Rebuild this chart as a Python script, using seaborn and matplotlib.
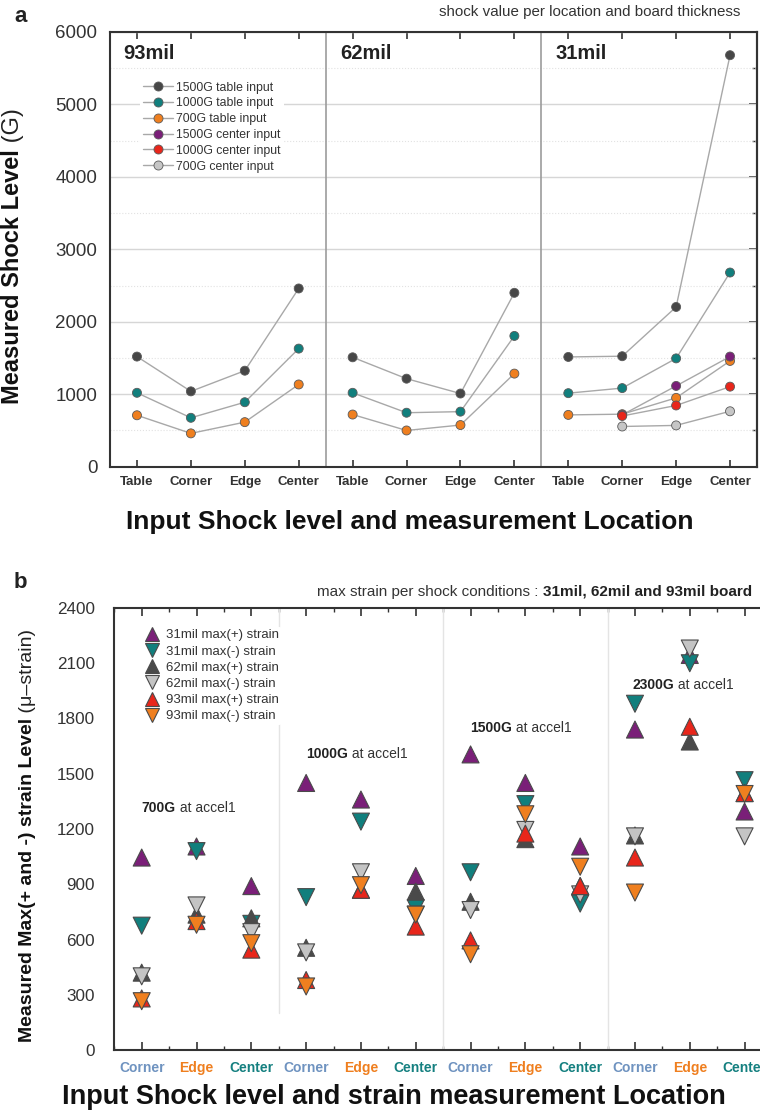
import numpy as np
import pandas as pd
import matplotlib
matplotlib.use("Agg")
import matplotlib.pyplot as plt
from matplotlib.lines import Line2D
from matplotlib.ticker import MultipleLocator, FixedLocator
import seaborn as sns

# ---------------- panel a: measured shock level ----------------
locations_a = ["Table", "Corner", "Edge", "Center"]
boards = ["93mil", "62mil", "31mil"]
# table-input series, 4 locations per board (93mil, 62mil, 31mil)
table_1500 = [1520, 1040, 1325, 2460, 1510, 1215, 1010, 2400, 1515, 1525, 2205, 5680]
table_1000 = [1020, 675, 890, 1630, 1020, 745, 760, 1805, 1015, 1085, 1495, 2680]
table_700 = [710, 460, 615, 1135, 720, 500, 575, 1285, 715, 725, 950, 1460]
# center-input series, 31mil board only (Corner, Edge, Center)
center_locations = ["Corner", "Edge", "Center"]
center_1500 = [715, 1115, 1520]
center_1000 = [700, 845, 1105]
center_700 = [555, 570, 765]

series_a = ["1500G table input", "1000G table input", "700G table input",
            "1500G center input", "1000G center input", "700G center input"]
colors_a = ["#474747", "#117f7d", "#ef7f1f", "#7a1f78", "#e8261b", "#c6c6c6"]

# ---------------- panel b: max strain ----------------
shock_levels = ["700G", "1000G", "1500G", "2300G"]
locations_b = ["Corner", "Edge", "Center"]
strain_31_pos = [1045, 1105, 890, 1450, 1360, 945, 1605, 1450, 1105, 1740, 2145, 1295]
strain_31_neg = [675, 1080, 685, 830, 1240, 770, 965, 1335, 795, 1880, 2100, 1465]
strain_62_pos = [420, 735, 715, 555, 870, 860, 805, 1145, 890, 1165, 1675, 1395]
strain_62_neg = [400, 785, 640, 530, 965, 735, 760, 1195, 845, 1160, 2180, 1160]
strain_93_pos = [280, 700, 545, 380, 870, 670, 595, 1175, 890, 1045, 1755, 1395]
strain_93_neg = [265, 680, 580, 345, 895, 735, 520, 1280, 995, 855, np.nan, 1390]

series_b = ["31mil max(+) strain", "31mil max(-) strain", "62mil max(+) strain",
            "62mil max(-) strain", "93mil max(+) strain", "93mil max(-) strain"]
colors_b = ["#7a1f78", "#117f7d", "#4a4a4a", "#c4c4c4", "#e8261b", "#ef7f1f"]
markers_b = ["^", "v", "^", "v", "^", "v"]
loc_colors = {"Corner": "#6f93c0", "Edge": "#ef7f1f", "Center": "#158080"}

# ---------------- styling ----------------
sns.set_theme(style="white")
plt.rcParams["font.family"] = ["Liberation Sans", "DejaVu Sans"]
plt.rcParams["text.color"] = "#222222"
plt.rcParams["axes.edgecolor"] = "#333333"
plt.rcParams["xtick.color"] = "#333333"
plt.rcParams["ytick.color"] = "#333333"

W, H = 760, 1114
fig = plt.figure(figsize=(W / 100, H / 100), dpi=100)


def px_axes(left, top, right, bottom):
    return fig.add_axes([left / W, 1 - bottom / H, (right - left) / W, (bottom - top) / H])


# ================= panel a =================
ax = px_axes(110, 32, 757, 466.7)

rows = []
for name, vals in zip(series_a[:3], [table_1500, table_1000, table_700]):
    for i, v in enumerate(vals):
        rows.append({"pos": i, "G": v, "series": name, "trace": f"{name}|{boards[i // 4]}"})
for name, vals in zip(series_a[3:], [center_1500, center_1000, center_700]):
    for j, v in enumerate(vals):
        rows.append({"pos": 8 + 1 + j, "G": v, "series": name, "trace": f"{name}|31mil"})
df_a = pd.DataFrame(rows)

sns.lineplot(data=df_a, x="pos", y="G", units="trace", estimator=None, sort=False,
             color="#a8a8a8", lw=1.0, ax=ax, zorder=2)
sns.scatterplot(data=df_a, x="pos", y="G", hue="series", hue_order=series_a,
                palette=dict(zip(series_a, colors_a)), s=42, edgecolor="#5a5a5a",
                linewidth=0.6, legend=False, ax=ax, zorder=3)

ax.set_xlim(-0.5, 11.5)
ax.set_ylim(0, 6000)
ax.set_xticks(range(12))
ax.set_xticklabels(locations_a * 3, fontsize=9.5, fontweight="bold", color="#333333")
ax.yaxis.set_major_locator(MultipleLocator(1000))
ax.yaxis.set_minor_locator(MultipleLocator(500))
ax.tick_params(axis="y", which="major", labelsize=13.5, direction="out", length=6, width=1.2, pad=3)
ax.tick_params(axis="y", which="minor", direction="out", length=3.5, width=1.0)
ax.tick_params(axis="x", which="major", direction="in", top=True, bottom=True,
               length=5, width=1.2, pad=7)
ax.set_axisbelow(True)
ax.grid(axis="y", which="major", color="#d6d6d6", lw=1.0)
ax.grid(axis="y", which="minor", color="#e2e2e2", lw=0.8, ls=":")
ax.grid(axis="x", visible=False)
for sp in ax.spines.values():
    sp.set_linewidth(1.5)
ax.set_xlabel("")
ax.set_ylabel("")

sec = ax.secondary_yaxis("right")
sec.yaxis.set_major_locator(MultipleLocator(1000))
sec.yaxis.set_minor_locator(MultipleLocator(500))
sec.tick_params(which="major", direction="in", length=6, width=1.2, labelright=False)
sec.tick_params(which="minor", direction="in", length=3.5, width=1.0)
sec.spines["right"].set_linewidth(1.5)

for xsep in (3.5, 7.5):
    ax.axvline(xsep, color="#9c9c9c", lw=1.2, zorder=1)
for k, b in enumerate(boards):
    ax.text(-0.25 + 4 * k + (0.02 if k else 0), 5700, b, fontsize=14.5, fontweight="bold",
            va="center", ha="left", color="#222222")

handles_a = [Line2D([0], [0], color="#a8a8a8", lw=1.0, marker="o", ms=6.5,
                    mfc=c, mec="#5a5a5a", mew=0.6) for c in colors_a]
leg = ax.legend(handles_a, series_a, loc="upper left", bbox_to_anchor=(0.046, 0.893),
                fontsize=8.8, frameon=True, facecolor="white", edgecolor="none",
                framealpha=1, handlelength=2.5, handletextpad=0.25, labelspacing=0.31,
                borderpad=0.25, borderaxespad=0)
for t in leg.get_texts():
    t.set_color("#333333")

fig.text(740 / W, 1 - 12 / H, "shock value per location and board thickness",
         ha="right", va="center", fontsize=10.9, color="#333333")
fig.text(410 / W, 1 - 522 / H, "Input Shock level and measurement Location",
         ha="center", va="center", fontsize=19, fontweight="bold", color="#111111")
fig.text(21 / W, 1 - 17 / H, "a", ha="center", va="center", fontsize=16, fontweight="bold")

ty = fig.text(13 / W, 1 - 404 / H, "Measured Shock Level", rotation=90, ha="center",
              va="bottom", fontsize=17, fontweight="bold", color="#111111")
ax.annotate(" (G)", xy=(0.5, 1), xycoords=ty, rotation=90, ha="center", va="bottom",
            fontsize=17, color="#222222", annotation_clip=False)

# ================= panel b =================
bx = px_axes(114.3, 608, 772, 1050)

rows = []
for name, vals in zip(series_b, [strain_31_pos, strain_31_neg, strain_62_pos,
                                 strain_62_neg, strain_93_pos, strain_93_neg]):
    for i, v in enumerate(vals):
        rows.append({"pos": i, "strain": v, "series": name})
df_b = pd.DataFrame(rows).dropna()

sns.scatterplot(data=df_b, x="pos", y="strain", hue="series", style="series",
                hue_order=series_b, style_order=series_b,
                palette=dict(zip(series_b, colors_b)), markers=dict(zip(series_b, markers_b)),
                s=150, edgecolor="#4a4a4a", linewidth=0.8, legend=False, ax=bx, zorder=3)

bx.set_xlim(-0.5, 11.5)
bx.set_ylim(0, 2400)
bx.set_xticks(range(12))
bx.set_xticklabels(locations_b * 4, fontsize=10, fontweight="bold")
for lab in bx.get_xticklabels():
    lab.set_color(loc_colors[lab.get_text()])
bx.xaxis.set_minor_locator(FixedLocator(np.arange(-0.5, 12, 1)))
bx.yaxis.set_major_locator(MultipleLocator(300))
bx.yaxis.set_minor_locator(MultipleLocator(150))
bx.tick_params(axis="y", which="major", labelsize=12.3, direction="out", length=5, width=1.2, pad=9)
bx.tick_params(axis="y", which="minor", direction="out", length=3, width=1.0)
bx.tick_params(axis="x", which="major", direction="in", top=True, bottom=True,
               length=6, width=1.2, pad=8)
bx.tick_params(axis="x", which="minor", direction="in", top=True, bottom=True,
               length=3, width=1.0)
bx.grid(False)
for sp in bx.spines.values():
    sp.set_linewidth(1.5)
bx.set_xlabel("")
bx.set_ylabel("")

bx.axvline(2.5, ymin=200 / 2400, color="#e4e4e4", lw=1.0, zorder=1)
for xsep in (5.5, 8.5):
    bx.axvline(xsep, color="#e4e4e4", lw=1.0, zorder=1)

label_pos = [(0.0, 1315), (3.0, 1607), (6.0, 1746), (8.95, 1981)]
for lvl, (xp, yp) in zip(shock_levels, label_pos):
    t = bx.text(xp, yp, lvl, fontsize=10, fontweight="bold", ha="left", va="center",
                color="#222222")
    bx.annotate(" at accel1", xy=(1, 0), xycoords=t, ha="left", va="bottom",
                fontsize=10, color="#333333")

handles_b = [Line2D([0], [0], ls="none", marker=m, ms=10.5, mfc=c, mec="#4a4a4a", mew=0.8)
             for m, c in zip(markers_b, colors_b)]
leg = bx.legend(handles_b, series_b, loc="upper left", bbox_to_anchor=(0.042, 0.958),
                fontsize=9.5, frameon=True, facecolor="white", edgecolor="none",
                framealpha=1, handlelength=1.1, handletextpad=0.55, labelspacing=0.3,
                borderpad=0.2, borderaxespad=0)
for t in leg.get_texts():
    t.set_color("#333333")

tb = fig.text(752 / W, 1 - 592 / H, "31mil, 62mil and 93mil board", ha="right",
              va="center", fontsize=11, fontweight="bold", color="#222222")
bx.annotate("max strain per shock conditions : ", xy=(0, 0), xycoords=tb,
            ha="right", va="bottom", fontsize=11, color="#333333", annotation_clip=False)
fig.text(394 / W, 1 - 1097 / H, "Input Shock level and strain measurement Location",
         ha="center", va="center", fontsize=19.5, fontweight="bold", color="#111111")
fig.text(20 / W, 1 - 583 / H, "b", ha="center", va="center", fontsize=16, fontweight="bold")

tyb = fig.text(28 / W, 1 - 1042 / H, "Measured Max(+ and -) strain Level", rotation=90,
               ha="center", va="bottom", fontsize=14, fontweight="bold", color="#111111")
bx.annotate(" (\u03bc\u2013strain)", xy=(0.5, 1), xycoords=tyb, rotation=90, ha="center",
            va="bottom", fontsize=14, color="#222222", annotation_clip=False)

fig.savefig("out.png", dpi=100)
